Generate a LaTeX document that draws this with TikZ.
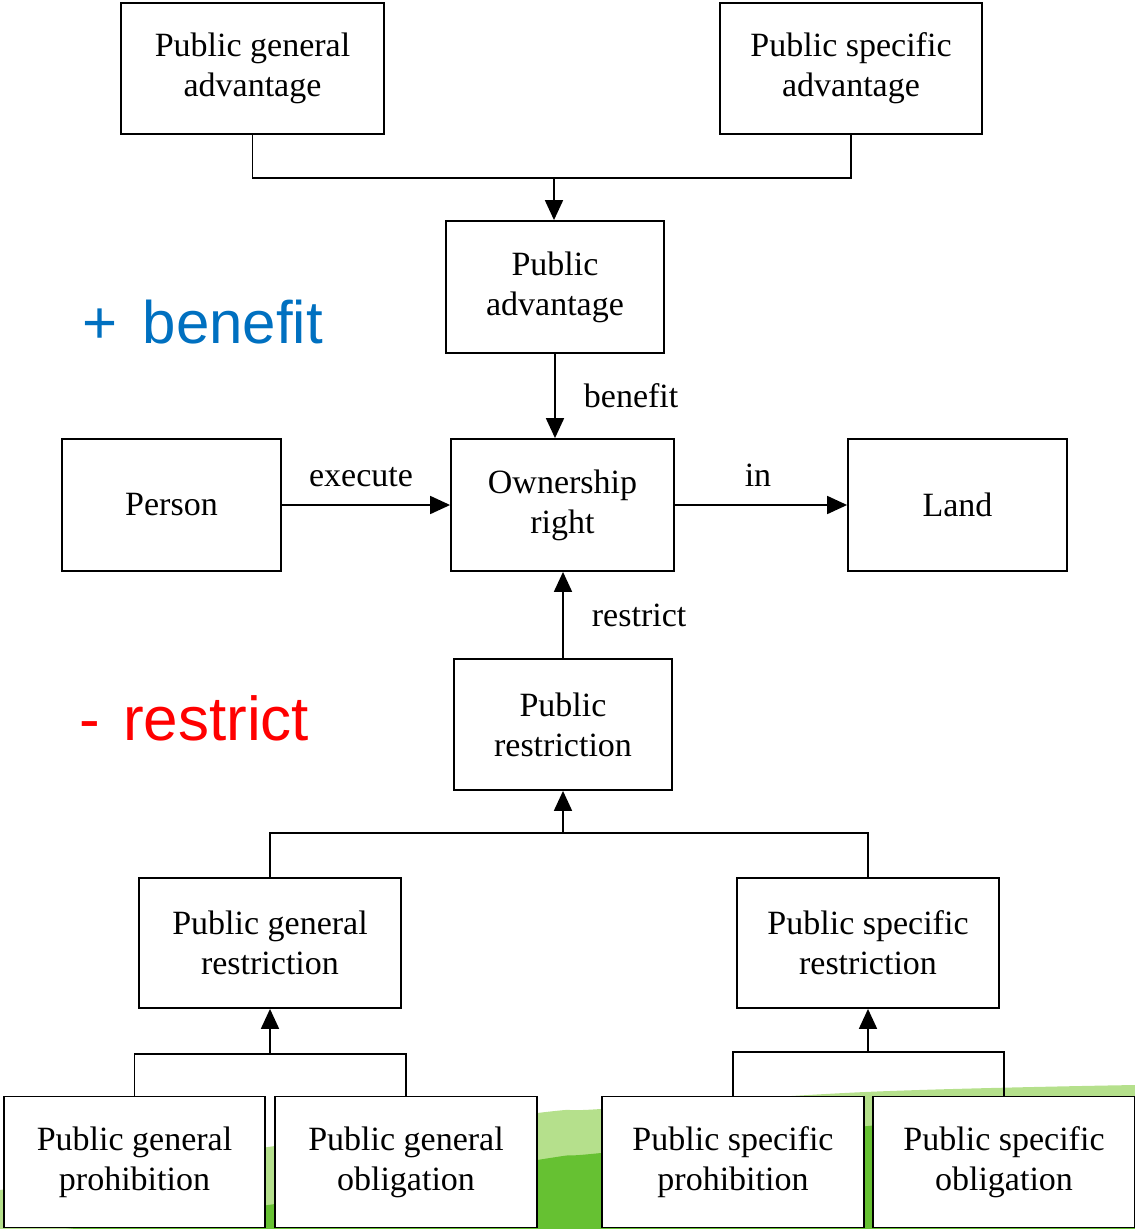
\documentclass[tikz,border=0pt]{standalone}
\usepackage{fontspec}
\setmainfont{Liberation Serif}
\newfontfamily\headsans{Liberation Sans}
\usetikzlibrary{arrows.meta}
\definecolor{leafpale}{HTML}{B5E08C}
\definecolor{leafdeep}{HTML}{66C132}
\definecolor{plusblue}{HTML}{0070C0}
\definecolor{minusred}{HTML}{FF0000}
\begin{document}
\begin{tikzpicture}[x=1pt,y=1pt,
  conceptbox/.style={draw, line width=1.8pt, fill=white, align=center,
    inner sep=0pt, minimum width=262pt, minimum height=131pt,
    font=\fontsize{34}{40}\selectfont,
    execute at begin node={\vspace*{5pt}}},
  midbox/.style={conceptbox, minimum width=219pt, minimum height=132pt},
  link/.style={line width=1.8pt},
  flow/.style={link, -{Triangle[length=20pt,width=18pt]}},
  edgelabel/.style={inner sep=0pt, font=\fontsize{34}{40}\selectfont},
  signlabel/.style={inner sep=0pt, anchor=base west, font=\headsans\fontsize{60}{70}\selectfont}]
\useasboundingbox (0,0) rectangle (1135,-1229);

% green swoosh at the foot of the page
\fill[leafpale] plot[smooth, tension=0.6] coordinates
  {(0,-1190) (268,-1147) (537,-1113) (601,-1109) (865,-1092) (1135,-1085)}
  -- (1135,-1240) -- (0,-1240) -- cycle;
\fill[leafdeep] plot[smooth, tension=0.6] coordinates
  {(0,-1236) (268,-1205) (537,-1160) (601,-1153) (868,-1126) (1135,-1100)}
  -- (1135,-1240) -- (0,-1240) -- cycle;

% upper branch: public advantages
\node[conceptbox, minimum width=263pt] (pga) at (252.5,-68.5) {Public general\\advantage};
\node[conceptbox] (psa) at (851,-68.5) {Public specific\\advantage};
\node[midbox, minimum width=218pt] (pa) at (555,-287) {Public\\advantage};

% central row
\node[midbox] (person) at (171.5,-505) {Person};
\node[midbox, minimum width=223pt] (own) at (562.5,-505) {Ownership\\right};
\node[midbox] (land) at (957.5,-505) {Land};

% lower branch: public restrictions
\node[midbox, minimum width=218pt, minimum height=131pt] (pr) at (563,-724.5) {Public\\restriction};
\node[conceptbox, minimum height=130pt] (pgr) at (270,-943) {Public general\\restriction};
\node[conceptbox, minimum height=130pt] (psr) at (868,-943) {Public specific\\restriction};

\node[conceptbox, minimum width=261pt] (pgp) at (134.5,-1162) {Public general\\prohibition};
\node[conceptbox] (pgo) at (406,-1162) {Public general\\obligation};
\node[conceptbox] (psp) at (733,-1162) {Public specific\\prohibition};
\node[conceptbox] (pso) at (1004,-1162) {Public specific\\obligation};

% junction points of the tree connectors
\coordinate (jadv) at (554,-178);
\coordinate (jres) at (563,-833);
\coordinate (jgen) at (270,-1054);
\coordinate (jspec) at (868,-1052);

\draw[link] (pga.south) |- (jadv) -| (psa.south);
\draw[flow] (jadv) -- (jadv |- pa.north);

\draw[flow] (pa.south) -- (pa.south |- own.north)
  node[edgelabel, midway, right=28pt] {benefit};
\draw[flow] (person.east) -- (own.west)
  node[edgelabel, midway, anchor=base, yshift=19pt, xshift=-5pt] {execute};
\draw[flow] (own.east) -- (land.west)
  node[edgelabel, midway, anchor=base, yshift=19pt, xshift=-3pt] {in};
\draw[flow] (pr.north) -- (pr.north |- own.south)
  node[edgelabel, midway, right=28pt] {restrict};

\draw[link] (pgr.north) |- (jres) -| (psr.north);
\draw[flow] (jres) -- (pr.south);

\draw[link] (pgp.north) |- (jgen) -| (pgo.north);
\draw[flow] (jgen) -- (pgr.south);
\draw[link] (psp.north) |- (jspec) -| (pso.north);
\draw[flow] (jspec) -- (psr.south);

% signed side captions
\node[signlabel, text=plusblue] (plus) at (82,-343) {+\hspace{0.15em} benefit};
\node[signlabel, text=minusred, font=\headsans\fontsize{62}{70}\selectfont] (minus) at (79,-740) {-\hspace{0.1em} restrict};
\end{tikzpicture}
\end{document}
